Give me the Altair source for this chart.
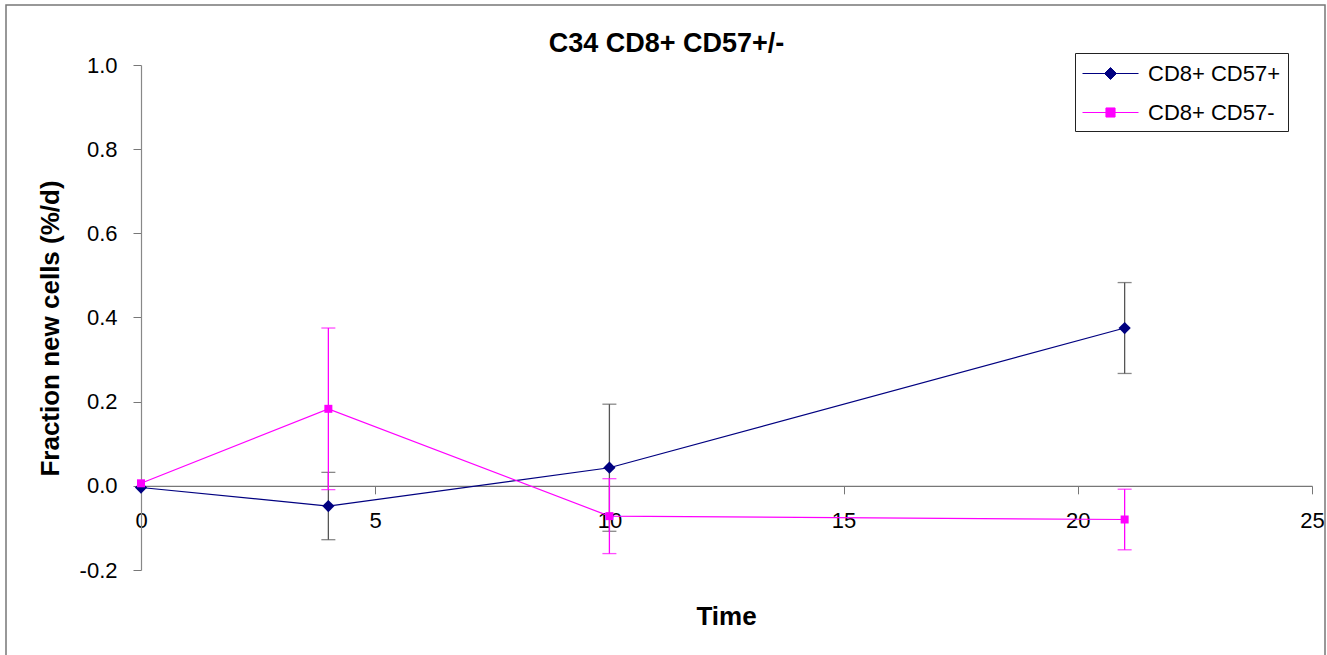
import altair as alt
import pandas as pd

# ---------------- data ----------------
series_names = ["CD8+ CD57+", "CD8+ CD57-"]
times = [0, 4, 10, 21]
cd57_pos = [-0.004, -0.048, 0.043, 0.375]
cd57_pos_err = [0.0, 0.080, 0.151, 0.108]
cd57_neg = [0.006, 0.183, -0.072, -0.080]
cd57_neg_err = [0.0, 0.192, 0.089, 0.072]
x_ticks = [0, 5, 10, 15, 20, 25]
y_ticks = [-0.2, 0.0, 0.2, 0.4, 0.6, 0.8, 1.0]

line_colors = ["#000080", "#FF00FF"]
err_colors = ["#555555", "#FF00FF"]
point_shapes = ["diamond", "square"]
point_sizes = [150, 64]

rows = []
for s, vals, errs in zip(series_names, [cd57_pos, cd57_neg], [cd57_pos_err, cd57_neg_err]):
    for t, v, e in zip(times, vals, errs):
        rows.append({"series": s, "time": t, "value": v, "err": e, "lo": v - e, "hi": v + e})
df = pd.DataFrame(rows)

W, H = 1171, 505
FONT = "Liberation Sans"
zero_offset = -H * 0.2 / 1.2

x_enc = alt.X(
    "time:Q",
    scale=alt.Scale(domain=[0, 25], nice=False, zero=False),
    axis=alt.Axis(
        values=x_ticks, title="Time", grid=False, offset=zero_offset,
        tickSize=8, tickColor="#777777", domainColor="#777777", domainWidth=1.2,
        labelFontSize=22, labelFont=FONT, labelColor="black", labelPadding=17,
        labelFlush=False,
        titleFontSize=26, titleFont=FONT, titleFontWeight="bold", titleColor="black",
        titleX=585, titleY=131, titleBaseline="middle", titleAnchor="start", titleAlign="center",
    ),
)


def y_enc(field):
    return alt.Y(
        f"{field}:Q",
        scale=alt.Scale(domain=[-0.2, 1.0], nice=False, zero=False),
        axis=alt.Axis(
            values=y_ticks, title="Fraction new cells (%/d)", grid=False,
            labelExpr="datum.value < 0 ? '-' + format(-datum.value, '.1f') : format(datum.value, '.1f')",
            tickSize=8, tickColor="#777777", domainColor="#888888", domainWidth=1.2,
            labelFontSize=22, labelFont=FONT, labelColor="black", labelPadding=16,
            titleFontSize=26, titleFont=FONT, titleFontWeight="bold", titleColor="black",
            titleX=-91, titleY=263, titleBaseline="middle", titleAnchor="start", titleAlign="center",
        ),
    )


base = alt.Chart(df)
layers = []

# error bars
for s, c in zip(series_names, err_colors):
    sub = base.transform_filter(alt.datum.series == s).transform_filter(alt.datum.err > 0)
    layers.append(sub.mark_rule(color=c, strokeWidth=1.3).encode(x=x_enc, y=y_enc("lo"), y2="hi:Q"))
    layers.append(
        sub.transform_fold(["lo", "hi"], as_=["end", "yv"])
        .mark_tick(orient="horizontal", color=c, size=14, thickness=1.3)
        .encode(x=x_enc, y=y_enc("yv"))
    )

# lines
for s, c in zip(series_names, line_colors):
    sub = base.transform_filter(alt.datum.series == s)
    layers.append(sub.mark_line(color=c, strokeWidth=1.2).encode(x=x_enc, y=y_enc("value")))

# markers
for s, c, shp, sz in zip(series_names, line_colors, point_shapes, point_sizes):
    sub = base.transform_filter(alt.datum.series == s)
    layers.append(
        sub.mark_point(shape=shp, filled=True, color=c, size=sz, opacity=1)
        .encode(x=x_enc, y=y_enc("value"))
    )

# legend (line + marker symbols)
legend_paths = [
    "M-1,0L3.31,0M1.154,-0.46L1.614,0L1.154,0.46L0.694,0Z",
    "M-1,0L3.31,0M0.804,-0.35L1.504,-0.35L1.504,0.35L0.804,0.35Z",
]
leg = alt.Legend(
    title=None, orient="none", legendX=934, legendY=-12, padding=7, rowPadding=14,
    labelFontSize=22, labelFont=FONT, labelColor="black", labelOffset=39,
    symbolSize=676, symbolStrokeWidth=1, symbolOpacity=1,
    strokeColor="#222222", fillColor="white",
)
layers.append(
    base.mark_point(filled=True, opacity=0).encode(
        x=x_enc, y=y_enc("value"),
        fill=alt.Fill("series:N", scale=alt.Scale(domain=series_names, range=line_colors), legend=leg),
        stroke=alt.Stroke("series:N", scale=alt.Scale(domain=series_names, range=line_colors), legend=leg),
        shape=alt.Shape("series:N", scale=alt.Scale(domain=series_names, range=legend_paths), legend=leg),
    )
)

# outer frame
frame = alt.Chart(pd.DataFrame({"b": [0]})).mark_rect(
    fill="transparent", stroke="#777777", strokeWidth=1.5
).encode(x=alt.value(-135), x2=alt.value(1184), y=alt.value(-60), y2=alt.value(720))
layers.append(frame)

chart = (
    alt.layer(*layers)
    .properties(
        width=W, height=H,
        padding={"left": 141, "top": 65, "right": 15, "bottom": 85},
        autosize=alt.AutoSizeParams(type="none"),
        background="white",
        title=alt.TitleParams(
            text="C34 CD8+ CD57+/-", font=FONT, fontSize=27, fontWeight="bold", color="black",
            anchor="middle", frame="group", dx=-60, dy=75, offset=0, baseline="alphabetic",
        ),
    )
    .configure_view(stroke=None)
)

chart.save("out.html", embed_options={"renderer": "svg", "actions": False})
